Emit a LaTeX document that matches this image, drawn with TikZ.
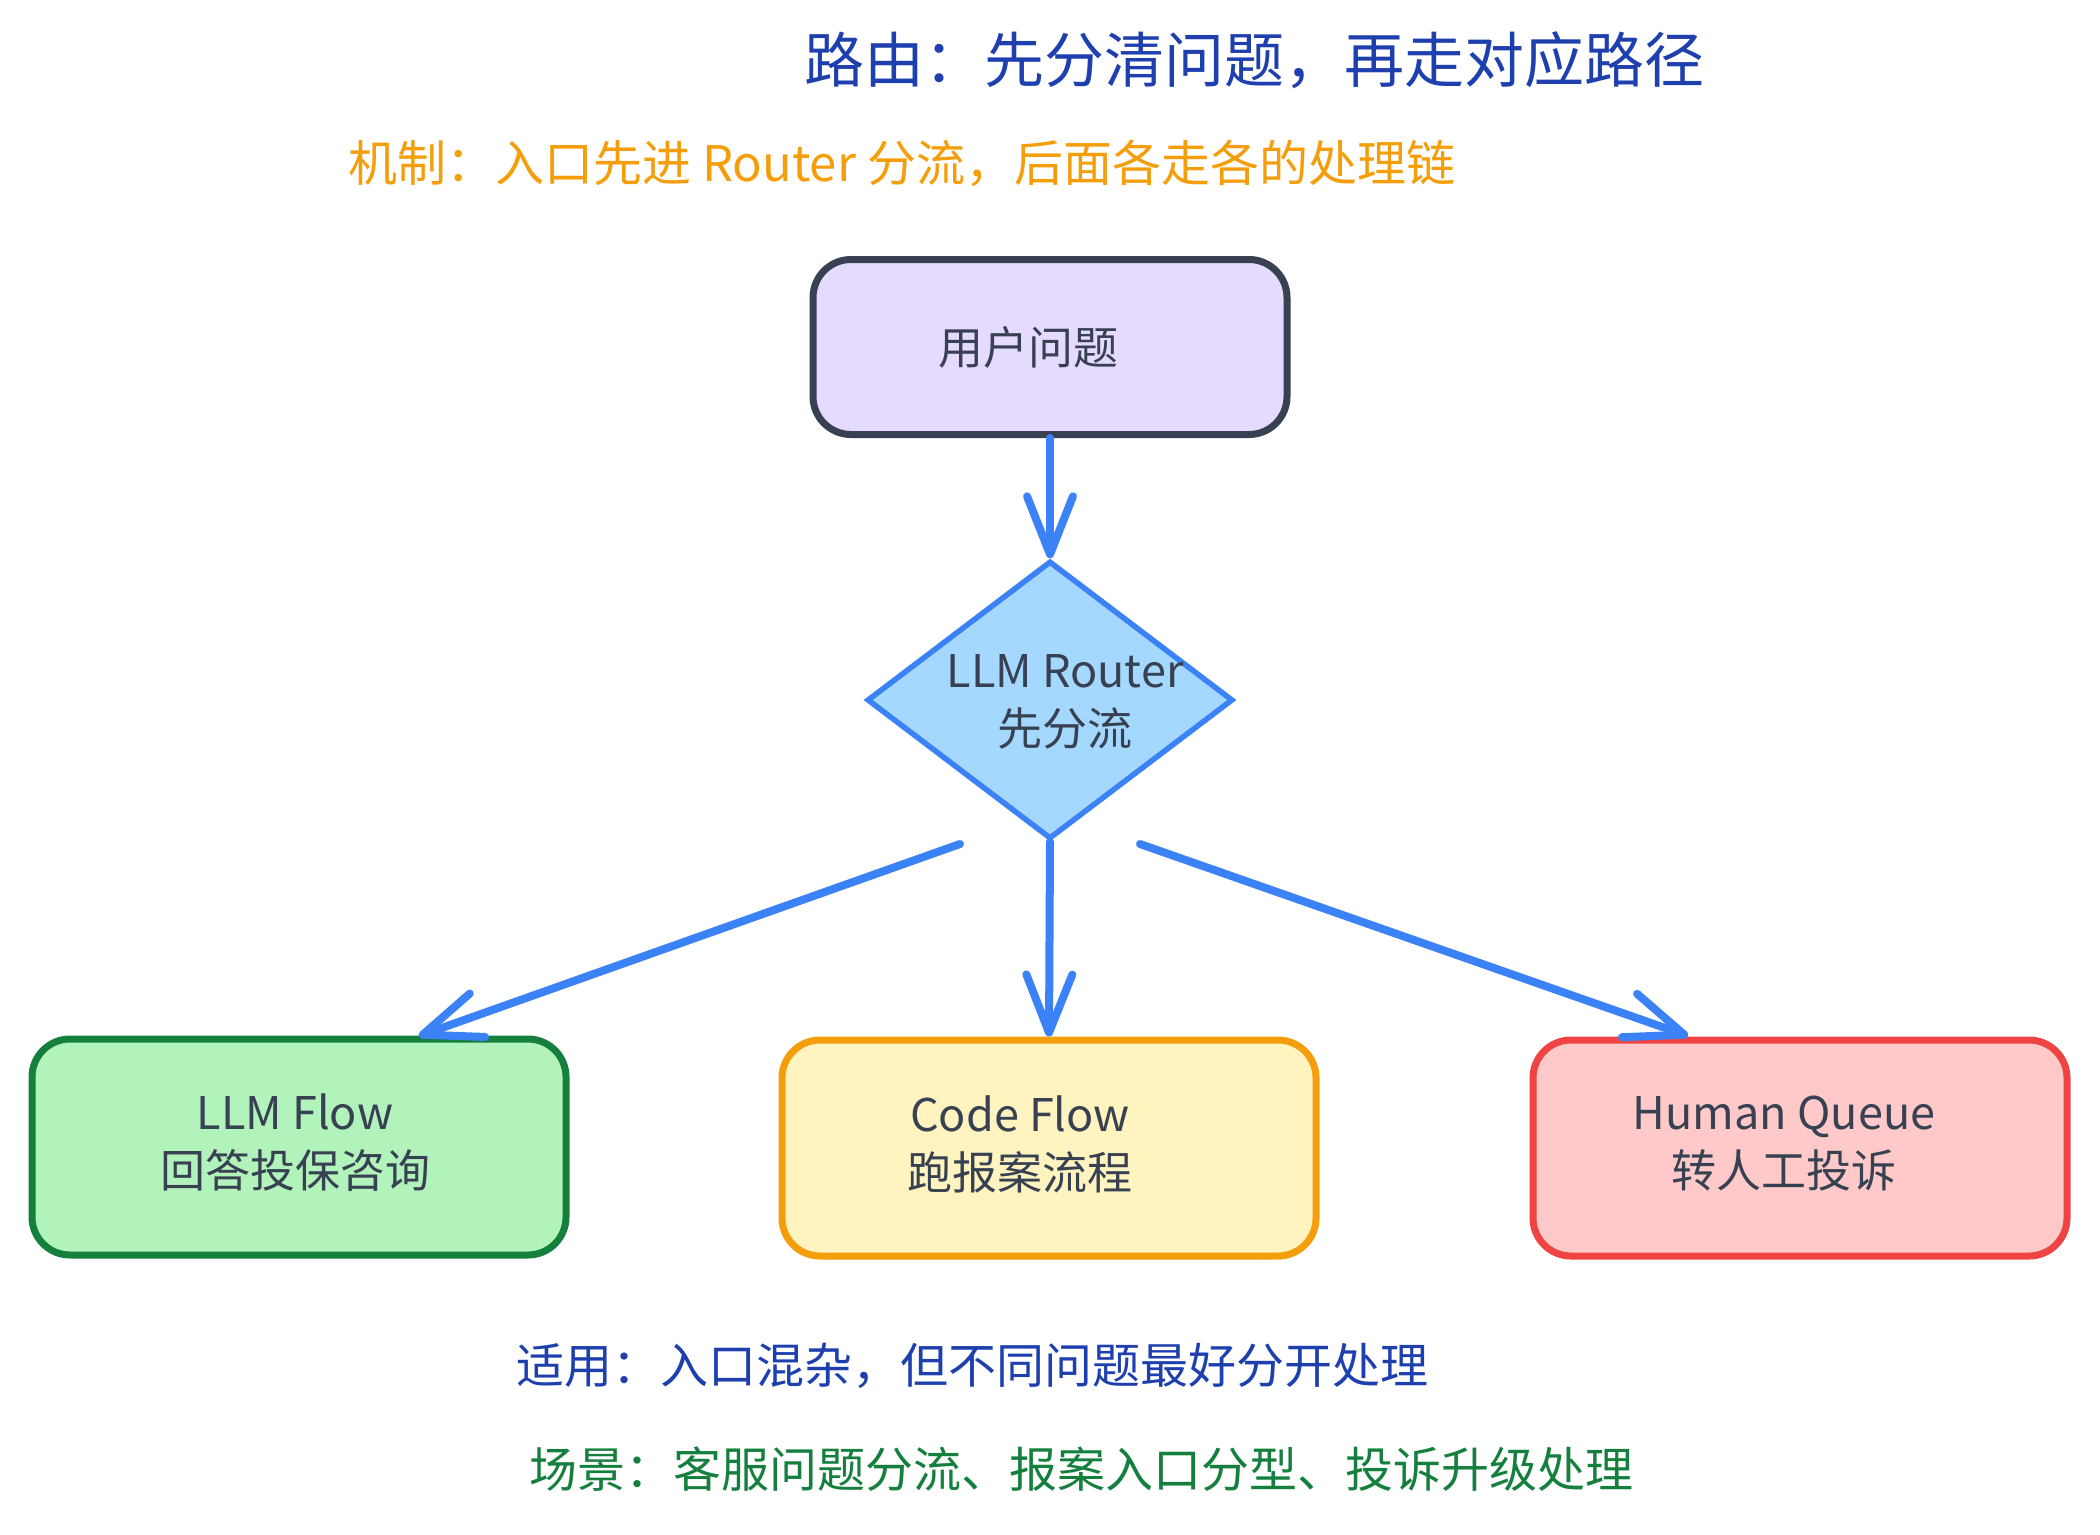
\documentclass[tikz,border=0pt]{standalone}
\usepackage{fontspec}
\setmainfont{Noto Sans CJK SC}
\usetikzlibrary{arrows.meta,shapes.geometric}
\definecolor{titleblue}{HTML}{1E40AF}
\definecolor{subor}{HTML}{F59E0B}
\definecolor{inkdark}{HTML}{374151}
\definecolor{violetfill}{HTML}{E5DBFF}
\definecolor{routerfill}{HTML}{A5D8FF}
\definecolor{arrowblue}{HTML}{3B82F6}
\definecolor{greenfill}{HTML}{B2F2BB}
\definecolor{greenline}{HTML}{15803D}
\definecolor{yellowfill}{HTML}{FFF3BF}
\definecolor{yellowline}{HTML}{F59E0B}
\definecolor{redfill}{HTML}{FFC9C9}
\definecolor{redline}{HTML}{EF4444}
\begin{document}
\begin{tikzpicture}[x=1pt,y=-1pt,
  boxnode/.style={draw, rounded corners=38pt, line width=7pt, inner sep=0pt,
    minimum width=534pt, minimum height=216pt},
  nodetext/.style={font=\fontsize{45}{58}\selectfont, text=inkdark, align=center},
  headtext/.style={anchor=west, inner sep=0pt},
  arr/.style={draw=arrowblue, line width=8pt, line cap=round,
    -{Straight Barb[length=58pt,width=46pt,round]}}
]
\useasboundingbox[fill=white] (0,0) rectangle (2100,1534);

% titles
\node[headtext, text=titleblue, font=\fontsize{60}{72}\selectfont] (title) at (804,60) {路由：先分清问题，再走对应路径};
\node[headtext, text=subor, font=\fontsize{49}{58}\selectfont] (subtitle) at (348,163) {机制：入口先进 Router 分流，后面各走各的处理链};

% nodes
\node[boxnode, draw=inkdark, fill=violetfill, minimum width=474pt, minimum height=175pt,
  label={[nodetext, xshift=-22pt]center:用户问题}] (userq) at (1050,347) {};
\node[diamond, draw=arrowblue, fill=routerfill, line width=5.5pt, inner sep=0pt,
  minimum width=366pt, minimum height=278pt,
  label={[nodetext, xshift=15pt, yshift=-2pt]center:LLM Router\\先分流}] (router) at (1050,700) {};
\node[boxnode, draw=greenline, fill=greenfill,
  label={[nodetext, xshift=-4pt, yshift=4pt]center:LLM Flow\\回答投保咨询}] (llmflow) at (299,1147) {};
\node[boxnode, draw=yellowline, fill=yellowfill,
  label={[nodetext, xshift=-29pt, yshift=4pt]center:Code Flow\\跑报案流程}] (codeflow) at (1049,1148) {};
\node[boxnode, draw=redline, fill=redfill,
  label={[nodetext, xshift=-16pt, yshift=4pt]center:Human Queue\\转人工投诉}] (human) at (1800,1148) {};

% free ends of the diagonal connectors
\coordinate (lstart) at (960,844);
\coordinate (lend) at (419,1036);
\coordinate (rstart) at (1140,844);
\coordinate (rend) at (1688,1036);

% connectors
\draw[arr] (userq.south) -- (router.north);
\draw[arr] (router.south) -- (codeflow.north);
\draw[arr] (lstart) -- (lend);
\draw[arr] (rstart) -- (rend);

% footer texts
\node[headtext, text=titleblue, font=\fontsize{48}{58}\selectfont] (applies) at (516,1366) {适用：入口混杂，但不同问题最好分开处理};
\node[headtext, text=greenline, font=\fontsize{48}{58}\selectfont] (scenes) at (529,1469) {场景：客服问题分流、报案入口分型、投诉升级处理};
\end{tikzpicture}
\end{document}
